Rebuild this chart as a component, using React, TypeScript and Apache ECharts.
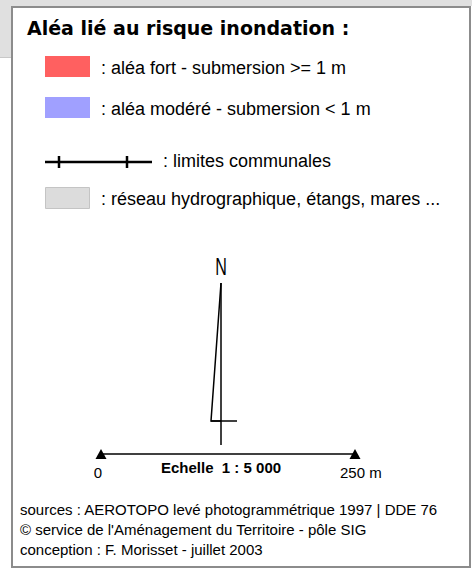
import React, { useEffect, useRef } from "react";
import * as echarts from "echarts";

const titleText = "Aléa lié au risque inondation :";
const legendLabels = [": aléa fort - submersion >= 1 m", ": aléa modéré - submersion < 1 m"];
const legendColors = ["#ff6060", "#a0a0ff"];
const lineLabel = ": limites communales";
const hydroLabel = ": réseau hydrographique, étangs, mares ...";
const northLabel = "N";
const scaleTitle = "Echelle  1 : 5 000";
const scaleLabels = ["0", "250 m"];
const footerLines = [
  "sources : AEROTOPO levé photogrammétrique 1997 | DDE 76",
  "© service de l'Aménagement du Territoire - pôle SIG",
  "conception : F. Morisset - juillet 2003",
];

const SANS = "'Liberation Sans', Arial, sans-serif";
const BOLD = "'DejaVu Sans', Verdana, sans-serif";

export default function App() {
  const ref = useRef<HTMLDivElement>(null);
  useEffect(() => {
    document.body.style.margin = "0";
    const chart = echarts.init(ref.current!, undefined, { renderer: "svg" });
    const els: any[] = [];
    // background strips
    els.push({ type: "rect", shape: { x: 0, y: 0, width: 472, height: 6 }, style: { fill: "#e0e0e0" } });
    els.push({ type: "rect", shape: { x: 0, y: 0, width: 11, height: 57 }, style: { fill: "#e0e0e0" } });
    els.push({ type: "line", shape: { x1: 0, y1: 57.5, x2: 11, y2: 57.5 }, style: { stroke: "#c8c8c8", lineWidth: 1 } });
    // frame
    els.push({ type: "rect", shape: { x: 12, y: 7, width: 458, height: 560 }, style: { fill: "#ffffff", stroke: "#8c8c8c", lineWidth: 2 } });
    // title
    els.push({ type: "text", x: 27, y: 27.5, style: { text: titleText, font: `bold 19px ${BOLD}`, fill: "#000", textAlign: "left", textVerticalAlign: "middle" } });
    // colored legend boxes
    const boxY = [56, 97];
    const textY = [68, 109];
    legendLabels.forEach((lab, i) => {
      els.push({ type: "rect", shape: { x: 45, y: boxY[i], width: 45, height: 21 }, style: { fill: legendColors[i] } });
      els.push({ type: "text", x: 101, y: textY[i], style: { text: lab, font: `18px ${SANS}`, fill: "#000", textAlign: "left", textVerticalAlign: "middle" } });
    });
    // limites communales
    els.push({ type: "line", shape: { x1: 45, y1: 162, x2: 152, y2: 162 }, style: { stroke: "#000", lineWidth: 2.5 } });
    [59, 127].forEach((x) => {
      els.push({ type: "line", shape: { x1: x, y1: 156, x2: x, y2: 168 }, style: { stroke: "#000", lineWidth: 2.5 } });
    });
    els.push({ type: "text", x: 163, y: 161, style: { text: lineLabel, font: `18px ${SANS}`, fill: "#000", textAlign: "left", textVerticalAlign: "middle" } });
    // hydro
    els.push({ type: "rect", shape: { x: 45.5, y: 187.5, width: 44, height: 21 }, style: { fill: "#dcdcdc", stroke: "#c4c4c4", lineWidth: 1 } });
    els.push({ type: "text", x: 101, y: 198.5, style: { text: hydroLabel, font: `18px ${SANS}`, fill: "#000", textAlign: "left", textVerticalAlign: "middle" } });
    // north arrow
    els.push({ type: "text", x: 221, y: 266.5, scaleX: 0.7, style: { text: northLabel, font: `23px ${SANS}`, fill: "#000", textAlign: "center", textVerticalAlign: "middle" } });
    els.push({ type: "line", shape: { x1: 221, y1: 283, x2: 221, y2: 445 }, style: { stroke: "#000", lineWidth: 1.5 } });
    els.push({ type: "polyline", shape: { points: [[221, 283], [211, 421], [221, 421]] }, style: { stroke: "#000", lineWidth: 1.5, fill: null } });
    els.push({ type: "line", shape: { x1: 211, y1: 421, x2: 237, y2: 421 }, style: { stroke: "#000", lineWidth: 1.5 } });
    // scale bar
    els.push({ type: "line", shape: { x1: 101, y1: 454, x2: 355, y2: 454 }, style: { stroke: "#000", lineWidth: 1.5 } });
    [101, 355].forEach((x) => {
      els.push({ type: "polygon", shape: { points: [[x, 449], [x - 5.5, 459], [x + 5.5, 459]] }, style: { fill: "#000" } });
    });
    els.push({ type: "text", x: 98, y: 472, style: { text: scaleLabels[0], font: `15px ${SANS}`, fill: "#000", textAlign: "center", textVerticalAlign: "middle" } });
    els.push({ type: "text", x: 340, y: 472, style: { text: scaleLabels[1], font: `15px ${SANS}`, fill: "#000", textAlign: "left", textVerticalAlign: "middle" } });
    els.push({ type: "text", x: 161, y: 467.5, style: { text: scaleTitle, font: `bold 15px ${SANS}`, fill: "#000", textAlign: "left", textVerticalAlign: "middle" } });
    // footer
    footerLines.forEach((t, i) => {
      els.push({ type: "text", x: 20, y: 509.5 + i * 20, style: { text: t, font: `15px ${SANS}`, fill: "#000", textAlign: "left", textVerticalAlign: "middle" } });
    });
    chart.setOption({ animation: false, backgroundColor: "#ffffff", graphic: { elements: els } });
    return () => chart.dispose();
  }, []);
  return <div ref={ref} style={{ position: "absolute", left: 0, top: 0, width: 472, height: 573 }} />;
}
